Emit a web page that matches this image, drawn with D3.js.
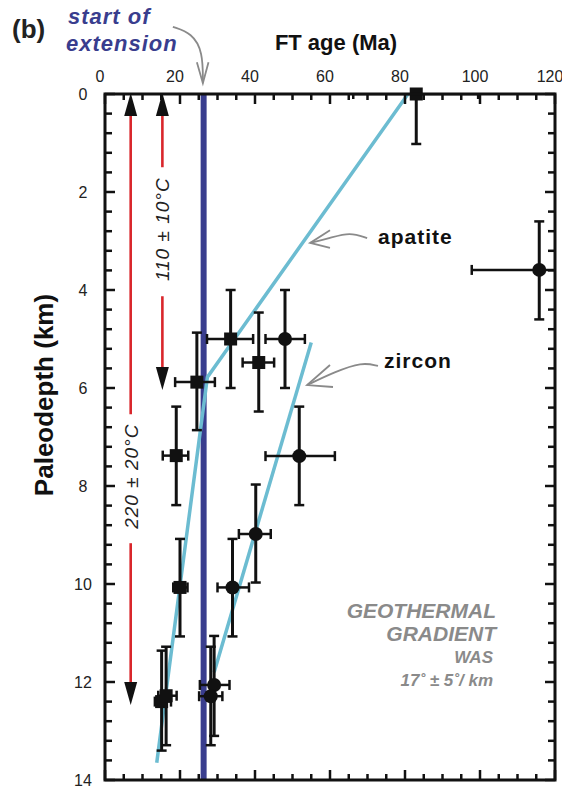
<!DOCTYPE html>
<html>
<head>
<meta charset="utf-8">
<script src="https://cdn.jsdelivr.net/npm/d3@7"></script>
<style>
  body { margin: 0; background: #fff; }
  svg { font-family: "Liberation Sans", Arial, sans-serif; }
</style>
</head>
<body>
<script>
// apatite FT ages (squares)
const apatiteAge = [83, 33.5, 41, 24.5, 19, 20, 15.1, 16.3];
const apatiteDepth = [0, 5.0, 5.48, 5.88, 7.38, 10.07, 12.4, 12.28];
const apatiteAgeLo = [66.2, 27.2, 36.7, 18.7, 15.4, 18.2, 13.3, 14.2];
const apatiteAgeHi = [99.5, 39.5, 45.1, 29.3, 22.2, 22.0, 17.6, 19.1];
const apatiteDepthLo = [-1, 4.0, 4.46, 4.87, 6.38, 9.08, 11.36, 11.28];
const apatiteDepthHi = [1.02, 6.0, 6.48, 6.86, 8.39, 11.07, 13.4, 13.29];

// zircon FT ages (circles)
const zirconAge = [115.8, 48, 51.8, 40.2, 34, 29.1, 28.2];
const zirconDepth = [3.59, 5.0, 7.39, 8.98, 10.07, 12.06, 12.29];
const zirconAgeLo = [97.8, 42.8, 42.8, 35.7, 30, 25.3, 25.1];
const zirconAgeHi = [134, 53.3, 61.3, 44.2, 38.4, 33.2, 31.3];
const zirconDepthLo = [2.6, 4.0, 6.38, 7.97, 9.08, 11.06, 11.28];
const zirconDepthHi = [4.6, 6.0, 8.39, 9.97, 11.07, 13.1, 13.29];

// best-fit lines [age, depth]
const apatiteFit = [[80.8, 0], [27.3, 5.78], [13.8, 13.65]];
const zirconFit = [[55, 5.07], [29.1, 11.8]];

const extensionAge = 26.3;

// closure temperature arrows
const closureArrows = [
  { age: 6.85, bottom: 12.47, label: "220 ± 20°C", labelDepth: 7.8 },
  { age: 15.3, bottom: 6.04, label: "110 ± 10°C", labelDepth: 2.76 }
];

const xTicksMajor = [0, 20, 40, 60, 80, 100, 120];
const yTicksMajor = [0, 2, 4, 6, 8, 10, 12, 14];

const width = 562, height = 792;
const x = d3.scaleLinear().domain([0, 120]).range([105, 555]);
const y = d3.scaleLinear().domain([0, 14]).range([94, 780]);

const svg = d3.select("body").append("svg")
  .attr("width", width)
  .attr("height", height);

svg.append("defs").append("clipPath").attr("id", "plot")
  .append("rect")
  .attr("x", x(0)).attr("y", y(0))
  .attr("width", x(120) - x(0)).attr("height", y(14) - y(0));

const red = "#d9262b", blue = "#393d8e", cyan = "#6cbcd1", gray = "#8a8a8a";

// red closure arrows
closureArrows.forEach(a => {
  const ax = x(a.age);
  const c = y(a.labelDepth);
  const half = 52;
  const g = svg.append("g");
  g.append("line").attr("x1", ax).attr("x2", ax)
    .attr("y1", y(0) + 20).attr("y2", c - half - 10)
    .attr("stroke", red).attr("stroke-width", 2.6);
  g.append("line").attr("x1", ax).attr("x2", ax)
    .attr("y1", c + half + 15).attr("y2", y(a.bottom) - 22)
    .attr("stroke", red).attr("stroke-width", 2.6);
  // arrowheads
  g.append("path")
    .attr("d", `M${ax},${y(0) - 1}L${ax - 6.5},${y(0) + 22}L${ax + 6.5},${y(0) + 22}Z`)
    .attr("fill", "#111");
  g.append("path")
    .attr("d", `M${ax},${y(a.bottom)}L${ax - 6.5},${y(a.bottom) - 23}L${ax + 6.5},${y(a.bottom) - 23}Z`)
    .attr("fill", "#111");
  g.append("text")
    .attr("transform", `translate(${ax},${c}) rotate(-90)`)
    .attr("text-anchor", "middle")
    .attr("dy", "0.36em")
    .style("font-size", "19px")
    .style("font-style", "italic")
    .style("letter-spacing", "1px")
    .attr("fill", "#222")
    .text(a.label);
});

// start of extension
svg.append("line")
  .attr("x1", x(extensionAge)).attr("x2", x(extensionAge))
  .attr("y1", y(0)).attr("y2", y(14))
  .attr("stroke", blue).attr("stroke-width", 6);

// fit lines
const line = d3.line().x(d => x(d[0])).y(d => y(d[1]));
[apatiteFit, zirconFit].forEach(f => {
  svg.append("path")
    .attr("d", line(f))
    .attr("fill", "none")
    .attr("stroke", cyan)
    .attr("stroke-width", 3.5);
});

// error bars
const plot = svg.append("g").attr("clip-path", "url(#plot)");
function errorBars(age, depth, aLo, aHi, dLo, dHi) {
  const g = plot.append("g").attr("stroke", "#111").attr("fill", "none");
  age.forEach((a, i) => {
    const cx = x(a), cy = y(depth[i]);
    g.append("line").attr("x1", x(aLo[i])).attr("x2", x(aHi[i]))
      .attr("y1", cy).attr("y2", cy).attr("stroke-width", 2.5);
    g.append("line").attr("x1", cx).attr("x2", cx)
      .attr("y1", y(dLo[i])).attr("y2", y(dHi[i])).attr("stroke-width", 3);
    [aLo[i], aHi[i]].forEach(v => {
      g.append("line").attr("x1", x(v)).attr("x2", x(v))
        .attr("y1", cy - 5).attr("y2", cy + 5).attr("stroke-width", 2.5);
    });
    [dLo[i], dHi[i]].forEach(v => {
      g.append("line").attr("x1", cx - 5).attr("x2", cx + 5)
        .attr("y1", y(v)).attr("y2", y(v)).attr("stroke-width", 2.5);
    });
  });
}
errorBars(apatiteAge, apatiteDepth, apatiteAgeLo, apatiteAgeHi, apatiteDepthLo, apatiteDepthHi);
errorBars(zirconAge, zirconDepth, zirconAgeLo, zirconAgeHi, zirconDepthLo, zirconDepthHi);

// markers
svg.append("g").selectAll("rect")
  .data(apatiteAge)
  .join("rect")
  .attr("x", (d, i) => x(d) - 6.5)
  .attr("y", (d, i) => y(apatiteDepth[i]) - 6.5)
  .attr("width", 13).attr("height", 13)
  .attr("fill", "#111");

svg.append("g").selectAll("circle")
  .data(zirconAge)
  .join("circle")
  .attr("cx", d => x(d))
  .attr("cy", (d, i) => y(zirconDepth[i]))
  .attr("r", 7)
  .attr("fill", "#111");

// axes, ticks inward
const minorX = d3.range(0, 121, 5);
const minorY = d3.range(0, 14.01, 0.4);
const axisG = svg.append("g").attr("stroke", "#111");
minorX.forEach(v => {
  const len = v % 20 === 0 ? 10 : 6;
  axisG.append("line").attr("x1", x(v)).attr("x2", x(v))
    .attr("y1", y(0)).attr("y2", y(0) + len).attr("stroke-width", 2.5);
  axisG.append("line").attr("x1", x(v)).attr("x2", x(v))
    .attr("y1", y(14)).attr("y2", y(14) - len).attr("stroke-width", 2.5);
});
minorY.forEach(v => {
  const len = Math.abs(v % 2) < 0.01 || Math.abs(v % 2 - 2) < 0.01 ? 10 : 7;
  axisG.append("line").attr("x1", x(0)).attr("x2", x(0) + len)
    .attr("y1", y(v)).attr("y2", y(v)).attr("stroke-width", 2.5);
  axisG.append("line").attr("x1", x(120)).attr("x2", x(120) - len)
    .attr("y1", y(v)).attr("y2", y(v)).attr("stroke-width", 2.5);
});
svg.append("rect")
  .attr("x", x(0)).attr("y", y(0))
  .attr("width", x(120) - x(0)).attr("height", y(14) - y(0))
  .attr("fill", "none").attr("stroke", "#111").attr("stroke-width", 3);

svg.append("g").selectAll("text")
  .data(xTicksMajor)
  .join("text")
  .attr("x", d => x(d) - 5)
  .attr("y", 82)
  .attr("text-anchor", "middle")
  .style("font-size", "16px")
  .attr("fill", "#222")
  .text(d => d);

svg.append("g").selectAll("text")
  .data(yTicksMajor)
  .join("text")
  .attr("x", 83)
  .attr("y", d => y(d))
  .attr("dy", "0.36em")
  .attr("text-anchor", "middle")
  .style("font-size", "16px")
  .attr("fill", "#222")
  .text(d => d);

// titles
svg.append("text").attr("x", 12).attr("y", 38)
  .style("font-size", "26px").style("font-weight", "bold").attr("fill", "#222")
  .text("(b)");

svg.append("text").attr("x", 336).attr("y", 50).attr("text-anchor", "middle")
  .style("font-size", "22px").style("font-weight", "bold").attr("fill", "#111")
  .text("FT age (Ma)");

const ext = svg.append("text")
  .style("font-size", "22px").style("font-weight", "bold").style("font-style", "italic")
  .style("letter-spacing", "1px")
  .attr("fill", blue);
ext.append("tspan").attr("x", 68).attr("y", 24).text("start of");
ext.append("tspan").attr("x", 66).attr("y", 51).text("extension");

svg.append("text")
  .attr("transform", `translate(53,395) rotate(-90)`)
  .attr("text-anchor", "middle")
  .style("font-size", "26px").style("font-weight", "bold").attr("fill", "#111")
  .text("Paleodepth (km)");

svg.append("text").attr("x", 378).attr("y", 244)
  .style("font-size", "21px").style("font-weight", "bold").style("letter-spacing", "1px")
  .attr("fill", "#111").text("apatite");
svg.append("text").attr("x", 384).attr("y", 368)
  .style("font-size", "21px").style("font-weight", "bold").style("letter-spacing", "1px")
  .attr("fill", "#111").text("zircon");

// geothermal gradient note
const geo = svg.append("text")
  .attr("text-anchor", "end")
  .style("font-weight", "bold").style("font-style", "italic")
  .attr("fill", gray);
geo.append("tspan").attr("x", 496).attr("y", 618).style("font-size", "21px").text("GEOTHERMAL");
geo.append("tspan").attr("x", 496).attr("y", 641).style("font-size", "21px").text("GRADIENT");
geo.append("tspan").attr("x", 493).attr("y", 663).style("font-size", "17px").text("WAS");
geo.append("tspan").attr("x", 493).attr("y", 686).style("font-size", "17px").text("17˚ ± 5˚/ km");

// curved gray pointer arrows [age, depth]
const pointers = [
  { path: [[69.9, 2.94], [65.3, 2.82], [60, 2.94], [54.7, 3.04]], arms: [[60, 2.78], [54.7, 3.04], [60, 3.14]] },
  { path: [[72.8, 5.55], [68.5, 5.47], [61.3, 5.67], [53.9, 5.94]], arms: [[60, 5.53], [53.9, 5.94], [60.8, 5.98]] },
  { path: [[18.1, -1.37], [23.2, -1.24], [26.1, -0.86], [26.1, -0.22]], arms: [[24.5, -0.65], [26.1, -0.22], [27.6, -0.65]] }
];
const curve = d3.line().x(d => x(d[0])).y(d => y(d[1])).curve(d3.curveBasis);
const straight = d3.line().x(d => x(d[0])).y(d => y(d[1]));
pointers.forEach(p => {
  svg.append("path").attr("d", curve(p.path))
    .attr("fill", "none").attr("stroke", gray).attr("stroke-width", 1.8);
  svg.append("path").attr("d", straight(p.arms))
    .attr("fill", "none").attr("stroke", gray).attr("stroke-width", 1.8);
});
</script>
</body>
</html>
